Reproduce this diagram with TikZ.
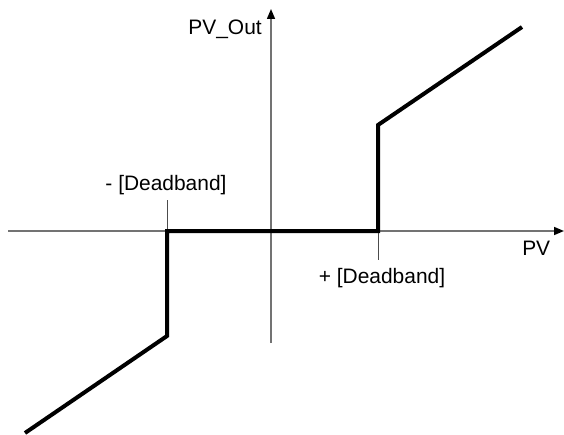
\documentclass[tikz,border=0pt]{standalone}
\usepackage{fontspec}
\setmainfont{Liberation Sans}
\usetikzlibrary{arrows.meta}
\tikzset{
  axis/.style={draw=black!55, line width=1.1pt, -{Triangle[width=6pt,length=7.5pt,color=black]}},
  tickline/.style={draw=black!70, line width=0.75pt},
  curve/.style={draw=black, line width=3pt, line join=miter},
  lbl/.style={inner sep=0pt, font=\fontsize{15.7}{18}\selectfont}
}
\begin{document}
\begin{tikzpicture}[x=0.75pt,y=-0.75pt]
  \useasboundingbox (0,0) rectangle (564,435);
  % axes
  \coordinate (xl) at (8,231);
  \coordinate (xr) at (564,231);
  \coordinate (yb) at (271,343);
  \coordinate (yt) at (271,9);
  \draw[axis] (xl) -- (xr);
  \draw[axis] (yb) -- (yt);
  % deadband marks
  \coordinate (dn) at (167,231);
  \coordinate (dp) at (378,231);
  \coordinate (dnt) at (167,200);
  \coordinate (dpt) at (378,260);
  \draw[tickline] (dn) -- (dnt);
  \draw[tickline] (dp) -- (dpt);
  % characteristic
  \coordinate (c0) at (25,433);
  \coordinate (c1) at (167,336);
  \coordinate (c2) at (378,125);
  \coordinate (c3) at (522,27);
  \draw[curve] (c0) -- (c1) -- (dn) -- (dp) -- (c2) -- (c3);
  % labels
  \node[lbl, anchor=base east] (pvout) at (262,35) {PV\_Out};
  \node[lbl, anchor=base west] (pv) at (522,255) {PV};
  \node[lbl, anchor=base] (dbneg) at (166,190) {- [Deadband]};
  \node[lbl, anchor=base] (dbpos) at (382,283) {+ [Deadband]};
\end{tikzpicture}
\end{document}
